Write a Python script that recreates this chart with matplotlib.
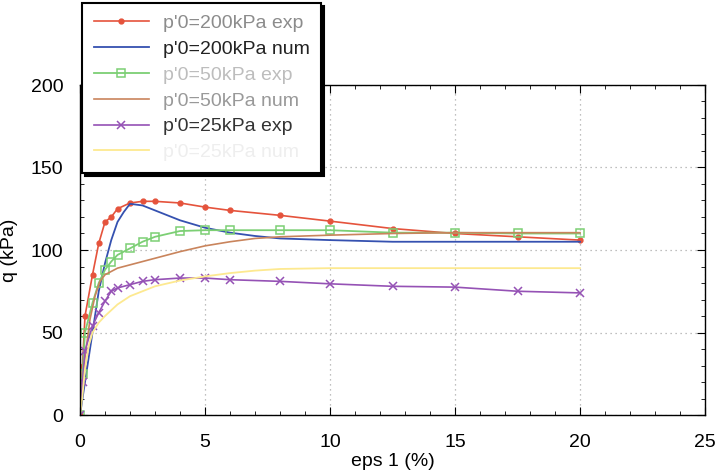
import matplotlib.pyplot as plt
from matplotlib.ticker import MultipleLocator
plt.rcParams['font.family'] = ['Liberation Sans', 'DejaVu Sans']

# p'0 = 200 kPa, experiment
exp200_x = [0, 0.1, 0.2, 0.5, 0.75, 1.0, 1.25, 1.5, 2, 2.5, 3, 4, 5, 6, 8, 10, 12.5, 15, 17.5, 20]
exp200_q = [0, 30, 60, 85, 104, 117, 120, 125, 128.5, 129.5, 129.5, 128.5, 126, 124, 121, 117.5, 113, 110, 108, 106]

# p'0 = 200 kPa, numerical
num200_x = [0, 0.25, 0.5, 0.75, 1.0, 1.25, 1.5, 1.75, 2.0, 2.5, 3, 4, 5, 6, 7, 8, 10, 12.5, 15, 20]
num200_q = [0, 25, 50, 75, 92, 106, 117, 123, 128, 127, 124, 118, 113.5, 110.5, 108.5, 107, 106, 105, 105, 105]

# p'0 = 50 kPa, experiment
exp50_x = [0, 0.1, 0.2, 0.5, 0.75, 1.0, 1.25, 1.5, 2, 2.5, 3, 4, 5, 6, 8, 10, 12.5, 15, 17.5, 20]
exp50_q = [0, 25, 50, 68, 80, 88, 93, 97, 101, 105, 108, 111.5, 112, 112, 112, 112, 110.5, 110.5, 110, 110]

# p'0 = 50 kPa, numerical
num50_x = [0, 0.2, 0.4, 0.6, 0.8, 1.0, 1.5, 2, 3, 4, 5, 6, 7, 8, 10, 12.5, 15, 20]
num50_q = [0, 35, 58, 72, 81, 85, 89, 91, 95, 99, 102.5, 105, 107, 108, 109, 110, 110.5, 110.5]

# p'0 = 25 kPa, experiment
exp25_x = [0, 0.1, 0.2, 0.5, 0.75, 1.0, 1.25, 1.5, 2, 2.5, 3, 4, 5, 6, 8, 10, 12.5, 15, 17.5, 20]
exp25_q = [0, 20, 39, 54, 62, 69, 75, 77, 79, 81, 82, 83, 83, 82, 81, 79.5, 78, 77.5, 75, 74]

# p'0 = 25 kPa, numerical
num25_x = [0, 0.1, 0.2, 0.35, 0.5, 0.75, 1.0, 1.5, 2, 3, 4, 5, 6, 7, 8, 10, 12.5, 15, 20]
num25_q = [0, 12, 28, 42, 50, 56, 60, 67, 72, 78, 81.5, 84, 86, 87.5, 88.5, 89, 89, 89, 89]

labels = ["p'0=200kPa exp", "p'0=200kPa num", "p'0=50kPa exp",
          "p'0=50kPa num", "p'0=25kPa exp", "p'0=25kPa num"]
label_colors = ['#8c8c8c', '#222222', '#bdbdbd', '#999999', '#333333', '#eeeeee']

fig = plt.figure(figsize=(7.18, 4.73), dpi=100)
ax = fig.add_axes([80 / 718, 1 - 415 / 473, 625 / 718, 330 / 473])

ax.plot(exp200_x, exp200_q, color='#e5533c', lw=1.2, marker='o', ms=3.5, label=labels[0])
ax.plot(num200_x, num200_q, color='#3551b0', lw=1.3, label=labels[1])
ax.plot(exp50_x, exp50_q, color='#7ccf74', lw=1.3, marker='s', ms=6, mfc='none', mew=1.1, label=labels[2])
ax.plot(num50_x, num50_q, color='#c9845c', lw=1.2, label=labels[3])
ax.plot(exp25_x, exp25_q, color='#9552b5', lw=1.2, marker='x', ms=5.5, mew=1.1, label=labels[4])
ax.plot(num25_x, num25_q, color='#fde990', lw=1.3, label=labels[5])

ax.set_xlim(0, 25)
ax.set_ylim(0, 200)
ax.xaxis.set_major_locator(MultipleLocator(5))
ax.xaxis.set_minor_locator(MultipleLocator(1))
ax.yaxis.set_major_locator(MultipleLocator(50))
ax.yaxis.set_minor_locator(MultipleLocator(10))
ax.tick_params(which='both', direction='in', top=True, right=True, labelsize=14)
ax.tick_params(axis='x', pad=14)
ax.tick_params(axis='y', pad=12)
ax.tick_params(which='major', length=6)
ax.tick_params(which='minor', length=3)
for s in ax.spines.values():
    s.set_linewidth(1.0)

ax.grid(True, which='major', color='#aaaaaa', linestyle=(0, (1, 3)), lw=0.9)

ax.set_xlabel('eps 1 (%)', fontsize=14, labelpad=1)
ax.set_ylabel('q (kPa)', fontsize=14, labelpad=9)

leg = ax.legend(loc='upper left', bbox_to_anchor=(82 / 718, 1 - 3 / 473),
                bbox_transform=fig.transFigure, borderaxespad=0,
                fancybox=False, shadow={'color': 'black', 'alpha': 1},
                framealpha=1, edgecolor='black', fontsize=14,
                handlelength=2.85, handletextpad=0.7, labelspacing=0.42,
                borderpad=0.6, labelcolor=label_colors)
leg.get_frame().set_linewidth(1.5)
leg.set_zorder(10)

fig.savefig('out.png', dpi=100)
